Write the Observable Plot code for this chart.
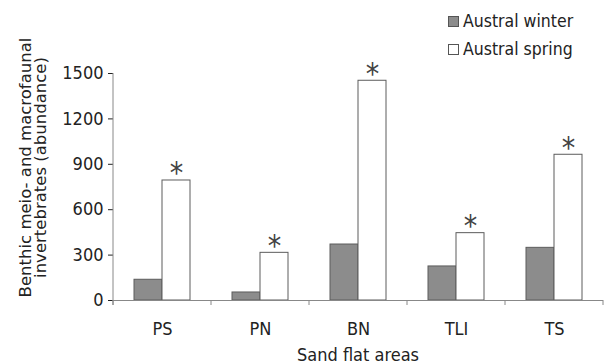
<!DOCTYPE html>
<html>
<head>
<meta charset="utf-8">
<script src="https://cdn.jsdelivr.net/npm/d3@7"></script>
<script src="https://cdn.jsdelivr.net/npm/@observablehq/plot@0.6"></script>
<style>
  html, body { margin: 0; padding: 0; background: #fff; }
  #wrap { position: relative; width: 604px; height: 364px; font-family: "DejaVu Sans Condensed", "DejaVu Sans", sans-serif; font-stretch: condensed; }
  #legend { position: absolute; left: 448px; top: 7px; font-size: 17.5px; color: #222; }
  #legend .row { display: flex; align-items: center; height: 28px; }
  #legend .sw { width: 9px; height: 9px; border: 1px solid #555; margin-right: 4px; box-sizing: content-box; }
</style>
</head>
<body>
<div id="wrap"><div id="legend"></div></div>
<script>
const areas = ["PS", "PN", "BN", "TLI", "TS"];
const series = ["Austral winter", "Austral spring"];
const winter = [137, 53, 370, 225, 348];
const spring = [793, 315, 1452, 445, 963];
const significant = ["*", "*", "*", "*", "*"];
const yTicks = [0, 300, 600, 900, 1200, 1500];
const fills = ["#8c8c8c", "#ffffff"];
const yLabel = ["Benthic meio- and macrofaunal", "invertebrates (abundance)"];
const xLabel = "Sand flat areas";

const data = areas.flatMap((a, i) => [
  {area: a, season: series[0], value: winter[i]},
  {area: a, season: series[1], value: spring[i]}
]);
const stars = areas.map((a, i) => ({area: a, season: series[1], value: spring[i], mark: significant[i]}));

const plot = Plot.plot({
  width: 604,
  height: 364,
  marginLeft: 113,
  marginRight: 1,
  marginTop: 73,
  marginBottom: 64,
  style: {fontFamily: "'DejaVu Sans Condensed', 'DejaVu Sans', sans-serif", fontStretch: "condensed", fontSize: "18px", color: "#222", background: "transparent", overflow: "visible"},
  fx: {domain: areas, padding: 0, axis: "bottom", tickSize: 0, tickPadding: 22, label: null},
  x: {domain: series, paddingInner: 0, paddingOuter: 0.75, axis: null},
  y: {domain: [0, 1500], ticks: yTicks, tickFormat: d3.format("d"), tickSize: 5, tickPadding: 5, label: null},
  color: {domain: series, range: fills},
  marks: [
    Plot.barY(data, {fx: "area", x: "season", y: "value", fill: "season", stroke: "#5c5c5c", strokeWidth: 1}),
    Plot.text(stars, {fx: "area", x: "season", y: "value", text: "mark", fontSize: 30, fontFamily: "DejaVu Sans", lineAnchor: "bottom", dy: 3, fill: "#444"}),
    Plot.ruleY([0], {stroke: "#888"})
  ]
});

d3.select(plot).selectAll("[aria-label='y-axis tick']").attr("stroke", "#888");

const fxS = plot.scale("fx");
const yS = plot.scale("y");
const y0 = yS.apply(0), yTop = yS.apply(1500);
const [r0, r1] = fxS.range;
const step = (r1 - r0) / areas.length;
const g = d3.select(plot).append("g").attr("stroke", "#888").attr("fill", "none");
g.append("line").attr("x1", r0).attr("x2", r0).attr("y1", yTop).attr("y2", y0 + 5);
d3.range(areas.length + 1).forEach(i => {
  const x = r0 + i * step;
  g.append("line").attr("x1", x).attr("x2", x).attr("y1", y0).attr("y2", y0 + 5);
});

const yMid = yS.apply(750) - 19;
const lab = d3.select(plot).append("text")
  .attr("transform", `translate(25.5,${yMid}) rotate(-90)`)
  .attr("text-anchor", "middle").attr("fill", "#222")
  .style("font-family", "'DejaVu Sans', sans-serif").style("font-stretch", "normal").attr("font-size", 16.5);
yLabel.forEach((t, i) => lab.append("tspan").attr("x", 0).attr("dy", i === 0 ? "0.35em" : "0.9em").text(t));
d3.select(plot).append("text")
  .attr("x", (r0 + r1) / 2).attr("y", 361)
  .attr("text-anchor", "middle").attr("fill", "#222").attr("font-size", 18).text(xLabel);

document.getElementById("wrap").prepend(plot);

const legend = d3.select("#legend");
series.forEach((s, i) => {
  const row = legend.append("div").attr("class", "row");
  row.append("div").attr("class", "sw").style("background", fills[i]);
  row.append("span").text(s);
});
</script>
</body>
</html>
